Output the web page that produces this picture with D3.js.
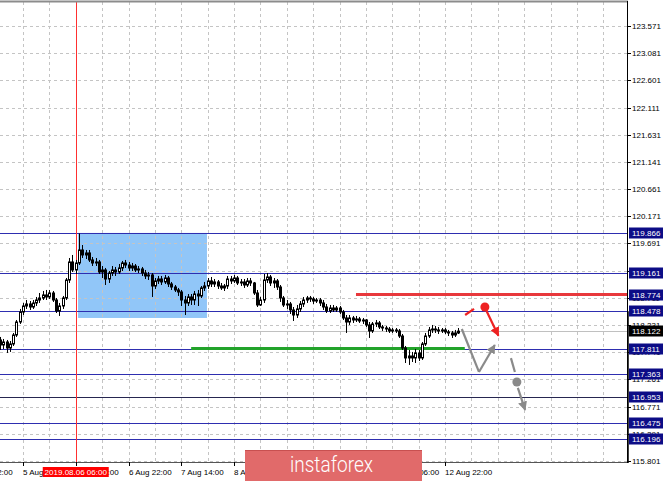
<!DOCTYPE html>
<html><head><meta charset="utf-8">
<script src="https://cdn.jsdelivr.net/npm/d3@7"></script>
<style>html,body{margin:0;padding:0;background:#fff;overflow:hidden}</style>
</head><body><svg id="chart" width="665" height="481"></svg>
<script>
// Hourly OHLC bars, bar 0 = 5 Aug 07:00
const open = [117.964,117.875,117.928,117.821,117.893,118.053,118.285,118.464,118.571,118.607,
118.553,118.625,118.678,118.714,118.768,118.732,118.803,118.678,118.482,118.571,
118.714,119.035,119.357,119.214,119.339,119.571,119.482,119.518,119.393,119.339,
119.357,119.178,119.214,119.053,119.160,119.214,119.178,119.250,119.339,119.303,
119.250,119.285,119.214,119.232,119.160,119.107,119.125,118.928,119.018,119.053,
119.000,119.071,118.964,118.910,118.857,118.821,118.678,118.625,118.732,118.678,
118.785,118.750,118.893,118.928,119.018,118.964,119.000,118.928,118.893,118.928,
119.053,119.018,119.071,118.982,119.000,118.946,119.018,118.982,118.803,118.589,
118.678,119.035,119.089,118.982,119.018,118.910,118.714,118.589,118.607,118.500,
118.410,118.518,118.607,118.678,118.714,118.696,118.660,118.678,118.625,118.553,
118.482,118.535,118.500,118.535,118.464,118.357,118.285,118.357,118.321,118.339,
118.303,118.321,118.232,118.125,118.250,118.268,118.196,118.178,118.160,118.125,
118.143,118.125,118.035,117.821,117.643,117.678,117.643,117.732,117.643,117.893,
118.035,118.143,118.160,118.143,118.125,118.143,118.107,118.089,118.053,118.089];
const high = [118.018,117.982,117.964,117.946,118.089,118.321,118.518,118.625,118.678,118.660,
118.678,118.732,118.803,118.839,118.857,118.857,118.839,118.714,118.625,118.750,
119.071,119.428,119.482,119.393,119.866,119.660,119.571,119.571,119.446,119.428,
119.393,119.285,119.250,119.196,119.285,119.268,119.321,119.375,119.393,119.357,
119.339,119.321,119.285,119.268,119.214,119.178,119.160,119.071,119.107,119.107,
119.125,119.107,119.000,118.946,118.893,118.857,118.750,118.785,118.785,118.839,
118.857,118.928,119.000,119.071,119.089,119.053,119.035,118.982,118.964,119.107,
119.107,119.125,119.107,119.053,119.053,119.071,119.071,119.000,118.857,118.732,
119.143,119.160,119.125,119.071,119.053,118.946,118.750,118.678,118.643,118.553,
118.589,118.660,118.732,118.750,118.750,118.732,118.714,118.714,118.678,118.607,
118.589,118.589,118.571,118.571,118.500,118.410,118.410,118.393,118.393,118.375,
118.357,118.339,118.285,118.285,118.321,118.303,118.232,118.214,118.196,118.178,
118.178,118.160,118.071,117.857,117.785,117.750,117.803,117.785,117.928,118.089,
118.196,118.232,118.214,118.196,118.178,118.178,118.143,118.125,118.143,118.178];
const low = [117.785,117.803,117.732,117.750,117.857,118.018,118.250,118.410,118.518,118.500,
118.518,118.571,118.625,118.678,118.678,118.696,118.643,118.446,118.393,118.518,
118.678,118.982,119.178,119.143,119.303,119.428,119.410,119.357,119.285,119.285,
119.143,119.071,118.946,118.982,119.107,119.107,119.143,119.196,119.250,119.196,
119.196,119.178,119.160,119.107,119.053,119.035,118.732,118.875,118.964,118.946,
118.964,118.910,118.857,118.821,118.750,118.571,118.410,118.571,118.589,118.589,
118.571,118.714,118.839,118.875,118.910,118.910,118.875,118.857,118.839,118.875,
118.964,118.982,118.946,118.928,118.893,118.910,118.928,118.768,118.553,118.571,
118.625,118.982,118.928,118.893,118.857,118.643,118.553,118.518,118.428,118.303,
118.357,118.464,118.553,118.625,118.643,118.607,118.625,118.571,118.500,118.446,
118.446,118.464,118.464,118.428,118.321,118.089,118.232,118.268,118.285,118.268,
118.250,118.196,118.000,118.089,118.196,118.160,118.125,118.107,118.089,118.089,
118.089,118.000,117.785,117.553,117.518,117.571,117.553,117.589,117.607,117.857,
118.000,118.089,118.089,118.071,118.089,118.071,118.035,118.000,118.018,118.071];
const close = [117.875,117.928,117.821,117.893,118.053,118.285,118.464,118.571,118.607,118.553,
118.625,118.678,118.714,118.768,118.732,118.803,118.678,118.482,118.571,118.714,
119.035,119.357,119.214,119.339,119.571,119.482,119.518,119.393,119.339,119.357,
119.178,119.214,119.053,119.160,119.214,119.178,119.250,119.339,119.303,119.250,
119.285,119.214,119.232,119.160,119.107,119.125,118.928,119.018,119.053,119.000,
119.071,118.964,118.910,118.857,118.821,118.678,118.625,118.732,118.678,118.785,
118.750,118.893,118.928,119.018,118.964,119.000,118.928,118.893,118.928,119.053,
119.018,119.071,118.982,119.000,118.946,119.018,118.982,118.803,118.589,118.678,
119.035,119.089,118.982,119.018,118.910,118.714,118.589,118.607,118.500,118.410,
118.518,118.607,118.678,118.714,118.696,118.660,118.678,118.625,118.553,118.482,
118.535,118.500,118.535,118.464,118.357,118.285,118.357,118.321,118.339,118.303,
118.321,118.232,118.125,118.250,118.268,118.196,118.178,118.160,118.125,118.143,
118.125,118.035,117.821,117.643,117.678,117.643,117.732,117.643,117.893,118.035,
118.143,118.160,118.143,118.125,118.143,118.107,118.089,118.053,118.089,118.122];

// Price axis ticks
const priceTicks = [123.571,123.081,122.601,122.111,121.631,121.141,120.661,120.171,119.691,
  119.201,118.711,118.231,117.741,117.261,116.771,116.291,115.801];
// Time axis ticks (bar index) and their labels
const timeTickBars = [-9,7,23,39,55,71,87,103,119,135];
const timeTickLabels = ["2 Aug 22:00","5 Aug 14:00","6 Aug 06:00","6 Aug 22:00","7 Aug 14:00",
  "8 Aug 06:00","8 Aug 22:00","9 Aug 14:00","12 Aug 06:00","12 Aug 22:00"];
// Horizontal support / resistance levels
const levels = [119.866,119.161,118.478,117.811,117.363,116.953,116.475,116.196];
const resistance = {price:118.774, fromBar:108};
const support = {price:117.811, fromBar:58, toBar:141};
const lastPrice = 118.122;
const markerBar = 23, markerLabel = "2019.08.06 06:00";
const zone = {fromBar:23.7, toBar:62.8, top:119.876, bottom:118.357};

// Scenario sketches (bar index, price)
const redDash = [[141.1,118.410],[143.8,118.518]];
const redDot = [147.1,118.553];
const redArrow = [[147.6,118.482],[151.2,118.040]];
const grayPath = [[140.1,118.160],[145.3,117.393]];
const grayArrow = [[145.3,117.393],[150.1,117.875]];
const grayDash = [[155.0,117.640],[156.2,117.393]];
const grayDot = [156.8,117.214];
const grayArrow2 = [[157.1,117.107],[159.3,116.715]];

const W = 665, H = 481, PR = 627, PT = 2, PB = 462;
const banner = {x:245, y:450, w:177, h:32};
const svg = d3.select("#chart");
const x = d3.scaleLinear().domain([7,135]).range([23,445]);
const y = d3.scaleLinear().domain([115.801,123.571]).range([461.1,26]);

const defs = svg.append("defs");
defs.append("clipPath").attr("id","plot")
  .append("rect").attr("x",0).attr("y",PT).attr("width",PR).attr("height",PB-PT);
defs.selectAll("marker").data([["ahRed","#ee2222"],["ahGray","#8a8a8a"]]).join("marker")
  .attr("id",d=>d[0]).attr("viewBox","0 0 10 10").attr("refX",9).attr("refY",5)
  .attr("markerWidth",4.2).attr("markerHeight",4.2).attr("orient","auto")
  .append("path").attr("d","M0,0L10,5L0,10z").attr("fill",d=>d[1]);

const plot = svg.append("g").attr("clip-path","url(#plot)");

// shaded zone
plot.append("rect")
  .attr("x",x(zone.fromBar)).attr("y",y(zone.top))
  .attr("width",x(zone.toBar)-x(zone.fromBar)).attr("height",y(zone.bottom)-y(zone.top))
  .attr("fill","#91c6f8");

// grid
const gridBars = d3.range(-9,190,8);
plot.selectAll(".vg").data(gridBars).join("line")
  .attr("x1",d=>Math.round(x(d))+0.5).attr("x2",d=>Math.round(x(d))+0.5)
  .attr("y1",PT).attr("y2",PB).attr("stroke","#c4c4c4").attr("stroke-dasharray","3,3");
plot.selectAll(".hg").data(priceTicks).join("line")
  .attr("x1",0).attr("x2",PR)
  .attr("y1",d=>Math.round(y(d))+0.5).attr("y2",d=>Math.round(y(d))+0.5)
  .attr("stroke","#c4c4c4").attr("stroke-dasharray","3,3");

// last price line
plot.append("line").attr("x1",0).attr("x2",PR)
  .attr("y1",Math.round(y(lastPrice))+0.5).attr("y2",Math.round(y(lastPrice))+0.5)
  .attr("stroke","#c0c0c0");

// level lines
plot.selectAll(".lv").data(levels).join("line")
  .attr("x1",0).attr("x2",PR)
  .attr("y1",d=>Math.round(y(d))+0.5).attr("y2",d=>Math.round(y(d))+0.5)
  .attr("stroke",d=>d===116.953?"#262650":"#2e2eb0").attr("stroke-width",1);

// marker vertical line
plot.append("line").attr("x1",Math.round(x(markerBar))+0.5).attr("x2",Math.round(x(markerBar))+0.5)
  .attr("y1",PT).attr("y2",PB).attr("stroke","#ff3030");

// resistance & support
plot.append("line").attr("x1",x(resistance.fromBar)).attr("x2",PR)
  .attr("y1",y(resistance.price)).attr("y2",y(resistance.price))
  .attr("stroke","#e8383c").attr("stroke-width",3);
plot.append("line").attr("x1",x(support.fromBar)).attr("x2",x(support.toBar))
  .attr("y1",y(support.price)).attr("y2",y(support.price))
  .attr("stroke","#22a32a").attr("stroke-width",3);

// candles
const bars = open.map((o,i)=>({i,o,h:high[i],l:low[i],c:close[i]}));
const cg = plot.append("g");
cg.selectAll(".wick").data(bars).join("line")
  .attr("x1",d=>Math.round(x(d.i))+0.5).attr("x2",d=>Math.round(x(d.i))+0.5)
  .attr("y1",d=>y(d.h)).attr("y2",d=>y(d.l)).attr("stroke","#000");
cg.selectAll(".body").data(bars).join("rect")
  .attr("x",d=>Math.round(x(d.i))-0.5).attr("width",2)
  .attr("y",d=>y(Math.max(d.o,d.c))).attr("height",d=>Math.max(1,Math.abs(y(d.o)-y(d.c))))
  .attr("fill",d=>d.c>=d.o?"#fff":"#000").attr("stroke","#000").attr("stroke-width",1);

// scenario sketches
const line = d3.line().x(d=>x(d[0])).y(d=>y(d[1]));
plot.append("path").attr("d",line(redDash)).attr("stroke","#ee2222").attr("stroke-width",2.2).attr("fill","none");
plot.append("circle").attr("cx",x(redDot[0])).attr("cy",y(redDot[1])).attr("r",4.5).attr("fill","#ee2222");
plot.append("path").attr("d",line(redArrow)).attr("stroke","#ee2222").attr("stroke-width",2.2)
  .attr("fill","none").attr("marker-end","url(#ahRed)");
plot.append("path").attr("d",line(grayPath)).attr("stroke","#8a8a8a").attr("stroke-width",2.2).attr("fill","none");
plot.append("path").attr("d",line(grayArrow)).attr("stroke","#8a8a8a").attr("stroke-width",2.2)
  .attr("fill","none").attr("marker-end","url(#ahGray)");
plot.append("path").attr("d",line(grayDash)).attr("stroke","#8a8a8a").attr("stroke-width",2.2).attr("fill","none");
plot.append("circle").attr("cx",x(grayDot[0])).attr("cy",y(grayDot[1])).attr("r",4.5).attr("fill","#8a8a8a");
plot.append("path").attr("d",line(grayArrow2)).attr("stroke","#8a8a8a").attr("stroke-width",2.2)
  .attr("fill","none").attr("marker-end","url(#ahGray)");

// frame
svg.append("line").attr("x1",0).attr("x2",PR+1).attr("y1",1.5).attr("y2",1.5).attr("stroke","#8c8c8c").attr("stroke-width",2);
svg.append("line").attr("x1",PR+0.5).attr("x2",PR+0.5).attr("y1",1).attr("y2",PB+1).attr("stroke","#000");
svg.append("line").attr("x1",PR+1).attr("x2",PR+1).attr("y1",y(118.478)).attr("y2",PB+1).attr("stroke","#000").attr("stroke-width",1.5);
svg.append("line").attr("x1",0).attr("x2",PR).attr("y1",PB+0.5).attr("y2",PB+0.5).attr("stroke","#555");

const font = "'Liberation Sans', Arial, sans-serif";

// level tags (drawn above the tick labels)
const tags = levels.concat([resistance.price]).map(p=>({p,bg:"#0c0c86"}));
tags.push({p:lastPrice,bg:"#000"});

// price axis: tick labels fully covered by a tag are left out
const pa = svg.append("g");
pa.selectAll(".pt").data(priceTicks).join("line")
  .attr("x1",PR+1).attr("x2",PR+4).attr("y1",d=>Math.round(y(d))+0.5).attr("y2",d=>Math.round(y(d))+0.5)
  .attr("stroke","#000");
const shownTicks = priceTicks.filter(t=>!tags.some(g=>Math.abs(y(g.p)-y(t))<3));
pa.selectAll(".pl").data(shownTicks).join("text")
  .attr("x",632).attr("y",d=>y(d)+3).attr("font-family",font).attr("font-size",8)
  .attr("fill","#000").text(d=>d3.format(".3f")(d));

const tg = pa.selectAll(".tag").data(tags).join("g").attr("transform",d=>`translate(0,${Math.round(y(d.p))})`);
tg.append("rect").attr("x",629).attr("y",-5.5).attr("width",34).attr("height",11).attr("fill",d=>d.bg);
tg.append("text").attr("x",632).attr("y",3).attr("font-family",font).attr("font-size",8)
  .attr("fill","#fff").text(d=>d3.format(".3f")(d.p));

// time axis: labels entirely under the banner are left out
const ta = svg.append("g");
ta.selectAll(".tt").data(timeTickBars).join("line")
  .attr("x1",d=>Math.round(x(d))+0.5).attr("x2",d=>Math.round(x(d))+0.5)
  .attr("y1",PB).attr("y2",PB+4).attr("stroke","#000");
const timeTicks = timeTickBars.map((b,i)=>({b,label:timeTickLabels[i]}))
  .filter(d=>!(x(d.b)>=banner.x && x(d.b)+44<=banner.x+banner.w));
ta.selectAll(".tl").data(timeTicks).join("text")
  .attr("x",d=>Math.round(x(d.b))).attr("y",475).attr("font-family",font).attr("font-size",8)
  .attr("fill","#000").text(d=>d.label);
const mx = x(markerBar);
ta.append("rect").attr("x",mx-33).attr("y",467).attr("width",66).attr("height",10).attr("fill","#ff0000");
ta.append("text").attr("x",mx).attr("y",475).attr("text-anchor","middle").attr("font-family",font)
  .attr("font-size",8).attr("fill","#fff").text(markerLabel);

// brand banner
svg.append("rect").attr("x",banner.x).attr("y",banner.y).attr("width",banner.w).attr("height",banner.h).attr("fill","#e16a6a");
svg.append("rect").attr("x",banner.x).attr("y",banner.y).attr("width",banner.w).attr("height",1).attr("fill","#c85050");
svg.append("text").attr("x",290).attr("y",472).attr("font-family","Roboto, 'Open Sans', sans-serif")
  .attr("font-weight",300).attr("font-size",22).attr("fill","#fff")
  .attr("textLength",83).attr("lengthAdjust","spacingAndGlyphs").text("instaforex");
</script></body></html>
